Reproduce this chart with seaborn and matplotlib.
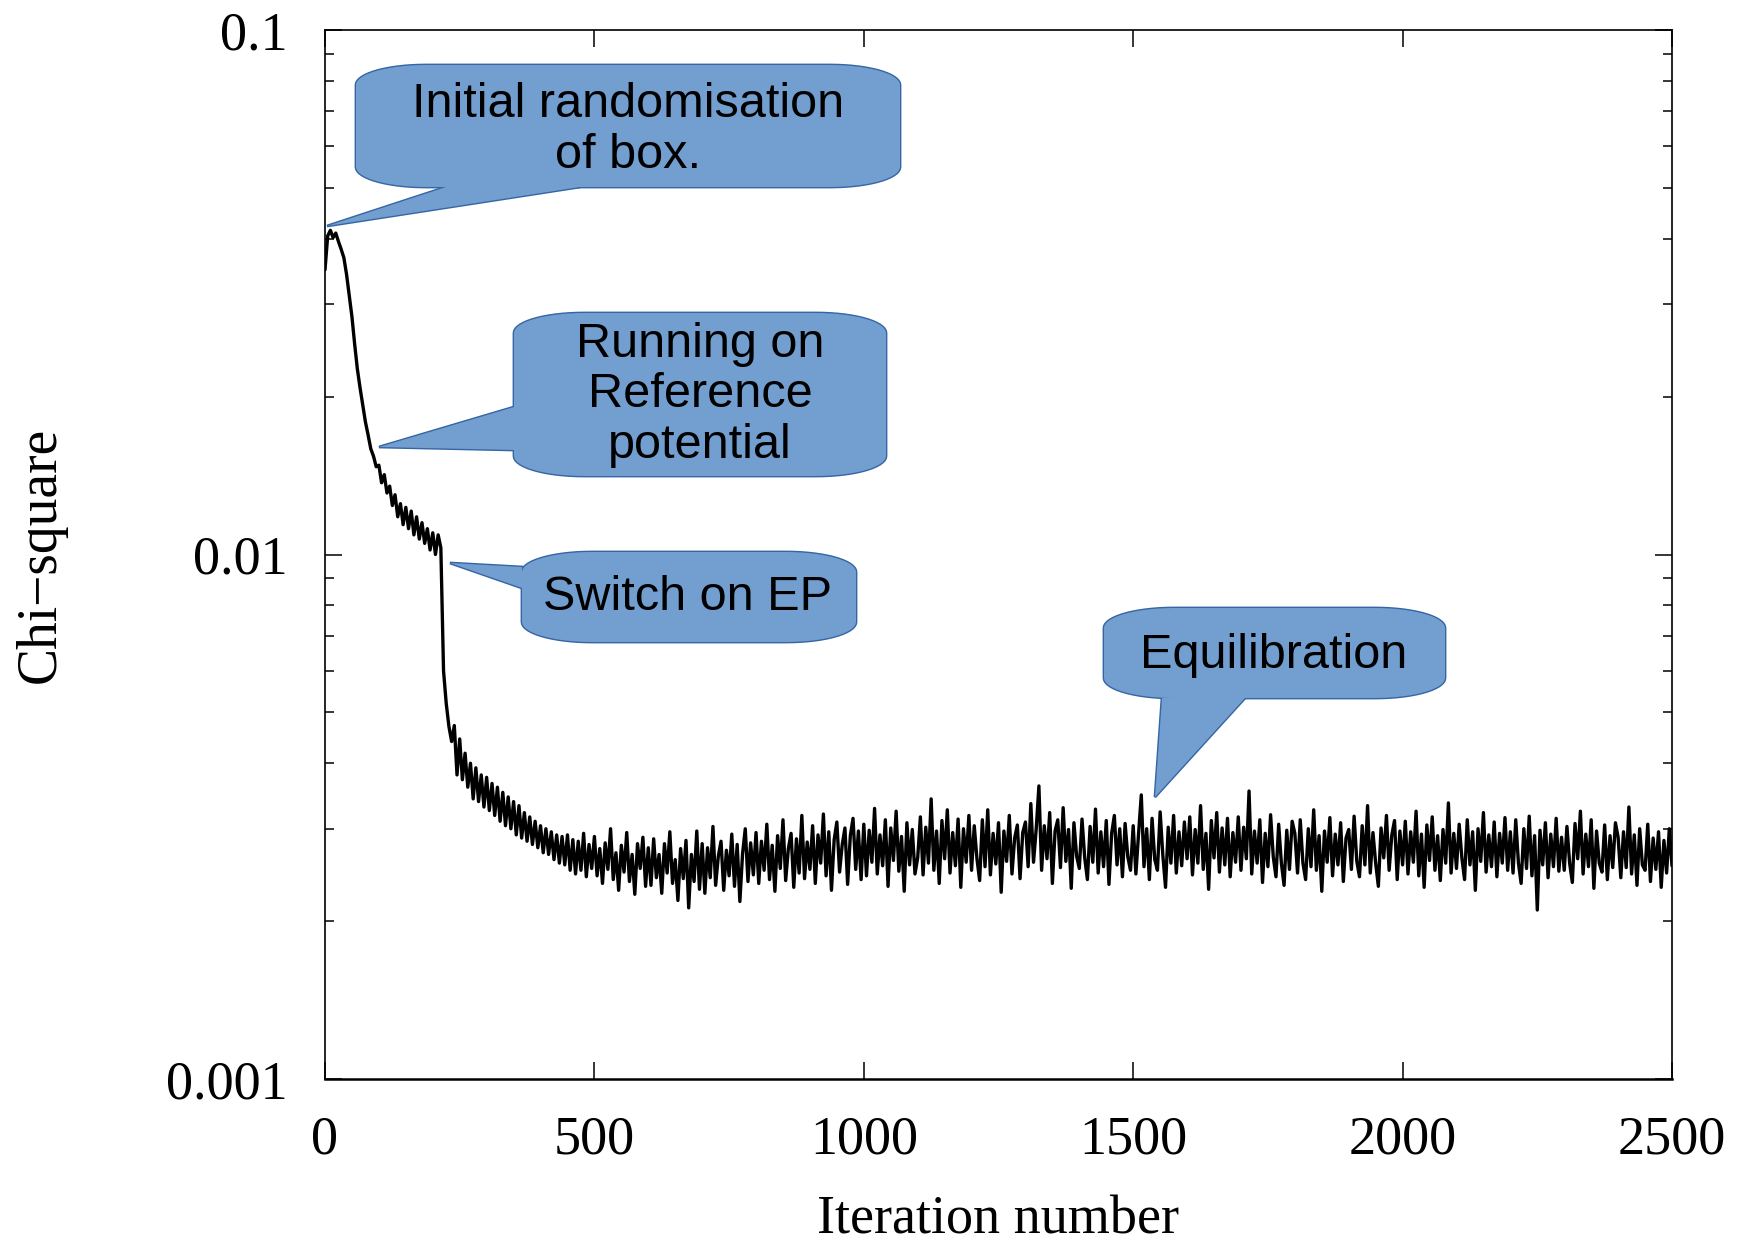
import numpy as np
import matplotlib
matplotlib.use("Agg")
import matplotlib.pyplot as plt
from matplotlib.patches import Polygon
import seaborn as sns

# chi-square, one value every 5 iterations, in units of 1e-5
step = 5
chi_start = [3490, 4050, 4150, 4020, 4100, 3950, 3820, 3680, 3420, 3120,
             2840, 2520, 2260, 2080, 1930, 1790, 1690, 1590, 1540, 1470,
             1480, 1370, 1420, 1310, 1350, 1240, 1300, 1180, 1250, 1140,
             1230, 1120, 1210, 1090, 1180, 1070, 1150, 1050, 1120, 1020,
             1100, 1000, 1090, 1030]
chi_ep = [600, 520, 470, 440, 472, 380, 445, 372, 418, 360,
          400, 342, 392, 338, 380, 330, 376, 325, 366, 318,
          360, 310, 352, 304, 345, 300, 338, 292, 332, 288,
          322, 284, 316, 280, 310, 276, 304, 270, 300, 268,
          296, 262, 292, 258, 290, 256, 292, 250, 286, 246,
          284, 250, 294, 243, 280, 252]
chi_equil = [
    290, 244, 275, 236, 282, 251, 300, 240, 270, 229, 279, 248, 295, 238, 268, 225, 281, 252, 289, 233,
    276, 234, 287, 242, 268, 226, 281, 247, 296, 236, 262, 219, 275, 241, 285, 212, 268, 238, 297, 230,
    281, 226, 276, 242, 303, 234, 266, 284, 229, 273, 244, 293, 233, 280, 218, 269, 300, 238, 282, 245,
    295, 236, 284, 250, 306, 240, 279, 228, 291, 252, 312, 239, 275, 294, 232, 287, 247, 318, 241, 283,
    251, 304, 236, 292, 258, 320, 244, 296, 229, 286, 309, 248, 280, 301, 235, 291, 314, 251, 297, 240,
    306, 244, 298, 259, 328, 246, 292, 255, 312, 233, 301, 261, 324, 249, 290, 228, 308, 256, 299, 246,
    264, 316, 245, 302, 258, 342, 250, 297, 236, 311, 263, 326, 247, 295, 255, 313, 232, 300, 259, 318,
    250, 304, 263, 239, 312, 254, 326, 245, 294, 257, 308, 227, 297, 260, 318, 246, 288, 305, 241, 295,
    309, 254, 335, 259, 300, 362, 250, 304, 263, 322, 236, 297, 312, 253, 329, 260, 299, 231, 308, 266,
    252, 313, 264, 240, 303, 259, 327, 247, 296, 254, 311, 235, 294, 318, 256, 300, 243, 307, 265, 250,
    304, 246, 294, 348, 254, 300, 240, 314, 262, 250, 323, 267, 232, 302, 258, 318, 247, 296, 255, 309,
    263, 316, 245, 299, 258, 332, 251, 294, 230, 311, 264, 322, 248, 301, 256, 314, 243, 295, 259, 316,
    250, 302, 263, 354, 246, 297, 258, 312, 237, 294, 254, 319, 265, 243, 306, 258, 234, 298, 251, 310,
    294, 247, 312, 258, 240, 300, 254, 326, 250, 291, 228, 297, 259, 315, 244, 293, 256, 308, 238, 288,
    299, 251, 317, 260, 243, 304, 256, 332, 247, 295, 258, 233, 301, 264, 318, 250, 292, 311, 240, 297,
    256, 310, 246, 296, 259, 324, 244, 293, 232, 305, 261, 316, 250, 291, 239, 299, 258, 336, 247, 294,
    252, 306, 264, 240, 312, 256, 296, 229, 300, 260, 322, 248, 292, 254, 309, 243, 294, 258, 315, 250,
    296, 247, 312, 258, 236, 300, 252, 317, 244, 291, 210, 298, 256, 308, 242, 293, 254, 314, 249, 289,
    250, 303, 258, 237, 307, 263, 324, 246, 293, 254, 312, 231, 297, 258, 248, 305, 240, 291, 253, 308,
    289, 242, 296, 253, 330, 246, 292, 234, 300, 256, 250, 306, 238, 288, 251, 296, 232, 285, 247, 300,
    255]

chi = np.array(chi_start + chi_ep + chi_equil) * 1e-5
iterations = np.arange(len(chi)) * step

y_ticks = [0.001, 0.01, 0.1]
y_tick_labels = ["0.001", "0.01", "0.1"]
x_ticks = [0, 500, 1000, 1500, 2000, 2500]

# callout texts
notes = ["Initial randomisation\nof box.",
         "Running on\nReference\npotential",
         "Switch on EP",
         "Equilibration"]

sns.set_style("ticks")
plt.rcParams['font.family'] = ['Liberation Serif', 'DejaVu Serif']
for key in ['text.color', 'axes.labelcolor', 'xtick.color', 'ytick.color', 'axes.edgecolor']:
    plt.rcParams[key] = 'black'

W, H = 1749, 1245
fig = plt.figure(figsize=(W / 100, H / 100), dpi=100)
ax = fig.add_axes([325 / W, 1 - 1079 / H, 1347 / W, 1049 / H])

sns.lineplot(x=iterations, y=chi, ax=ax, color='black', linewidth=2.4)

ax.set_yscale('log')
ax.set_xlim(0, 2500)
ax.set_ylim(0.001, 0.1)
ax.set_yticks(y_ticks)
ax.set_yticklabels(y_tick_labels)
ax.set_xticks(x_ticks)
ax.tick_params(axis='both', which='major', direction='in', length=12, width=1.1,
               labelsize=39, top=True, right=True)
ax.tick_params(axis='x', pad=26)
ax.tick_params(axis='y', pad=27)
ax.tick_params(axis='y', which='minor', direction='in', length=6.5, width=1.1,
               right=True, left=True)
ax.tick_params(axis='x', which='minor', bottom=False, top=False)
for side in ['left', 'right', 'top']:
    ax.spines[side].set_linewidth(1.2)
ax.spines['bottom'].set_linewidth(1.8)

ax.set_xlabel("Iteration number", fontsize=39)
ax.set_ylabel("Chi\u2212square", fontsize=40)
ax.xaxis.set_label_coords(0.5, -0.111)
ax.yaxis.set_label_coords(-0.192, 0.5)


def px(x, y):
    return (x / W, 1 - y / H)


def rounded_box(x0, y0, x1, y1, rx=70, ry=20):
    pts = []
    t = np.linspace(0, np.pi / 2, 16)
    for cx, cy, a0 in [(x1 - rx, y0 + ry, -np.pi / 2), (x1 - rx, y1 - ry, 0),
                       (x0 + rx, y1 - ry, np.pi / 2), (x0 + rx, y0 + ry, np.pi)]:
        for a in a0 + t:
            pts.append((cx + rx * np.cos(a), cy + ry * np.sin(a)))
    return [px(*p) for p in pts]


fill = '#729fcf'
edge = '#3465a4'
callouts = [
    ((356, 65, 900, 187), [(446, 187), (327, 226), (580, 187)], (628, 130)),
    ((514, 313, 886, 476), [(514, 407), (379, 447), (514, 450)], (700, 395)),
    ((522, 552, 856, 642), [(522, 567), (450, 563), (522, 588)], (688, 598)),
    ((1104, 608, 1445, 698), [(1162, 698), (1155, 797), (1245, 698)], (1274, 655)),
]
for (box, tail, centre), note in zip(callouts, notes):
    shapes = [rounded_box(*box), [px(*p) for p in tail]]
    for s in shapes:
        fig.patches.append(Polygon(s, closed=True, transform=fig.transFigure,
                                   facecolor=fill, edgecolor=edge, lw=2.0, zorder=5))
    for s in shapes:
        fig.patches.append(Polygon(s, closed=True, transform=fig.transFigure,
                                   facecolor=fill, edgecolor='none', zorder=6))
    fig.text(*px(*centre), note, ha='center', va='center', fontsize=35, color='black',
             family=['Liberation Sans', 'DejaVu Sans'], linespacing=1.17, zorder=7)

plt.savefig('out.png', dpi=100)
